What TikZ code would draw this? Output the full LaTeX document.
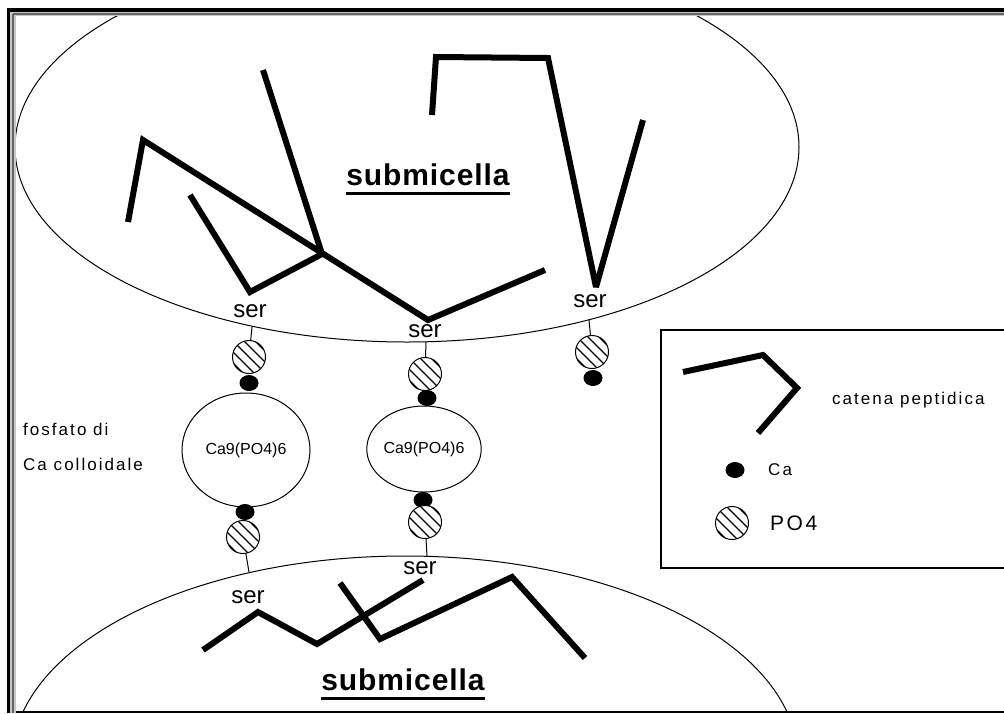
\documentclass[tikz,border=0pt]{standalone}
\usepackage{fontspec}
\setmainfont{Liberation Sans}
\newfontfamily\bitmapfont[LetterSpace=12]{Liberation Sans}
\newfontfamily\titlefont[LetterSpace=3]{Liberation Sans}
\usetikzlibrary{shapes.geometric}

\begin{document}
\begin{tikzpicture}[x=1pt,y=-1pt,
    chain/.style={line width=6, line join=miter, miter limit=2},
    tick/.style={line width=1},
    po4/.style={circle, draw, line width=1, minimum size=33, inner sep=0, fill=white,
      path picture={\foreach \k in {-22,-11,0,11,22}
        \draw[line width=1.2] ([xshift=\k]path picture bounding box.center) ++(-30,-30) -- ++(60,60);}},
    ca/.style={ellipse, fill=black, minimum width=19, minimum height=16, inner sep=0},
    colloid/.style={ellipse, draw, line width=1, fill=white, inner sep=0, font=\fontsize{16}{18}\selectfont},
    ser/.style={inner sep=0, font=\fontsize{24}{26}\selectfont},
    small/.style={inner sep=0, font=\bitmapfont\fontsize{17}{20}\selectfont},
    title/.style={inner sep=0, font=\titlefont\bfseries\fontsize{30}{33}\selectfont}]
  \useasboundingbox (0,0) rectangle (1004,713);

  % the two submicelle
  \begin{scope}
    \clip (16,16) rectangle (1004,711);
    \draw[line width=1] (407,147) ellipse [x radius=392, y radius=195];
    \draw[line width=1] (405,760) ellipse [x radius=393, y radius=204];
  \end{scope}

  % window frame
  \fill[black] (7,8) rectangle (1004,11.5);
  \fill[black] (7,8) rectangle (10,713);
  \fill[gray!45] (10,11.5) rectangle (1004,16);
  \fill[gray!45] (10,11.5) rectangle (16,713);
  \draw[gray!80!black, line width=1.5] (12.5,14) -- (1004,14);
  \draw[gray!80!black, line width=1.5] (13,14) -- (13,713);
  \draw[line width=1.5] (16,712) -- (1004,712);

  % peptide chains
  \draw[chain] (128,222) -- (143,140) -- (428,320) -- (545,270);
  \draw[chain] (190,195) -- (250,292) -- (322,254) -- (263,70);
  \draw[chain] (432,115) -- (436,57) -- (548,58) -- (596,287) -- (643,120);
  \draw[chain] (203,650) -- (258,612) -- (317,644) -- (423,580);
  \draw[chain] (340,583) -- (380,639) -- (512,577) -- (585,658);

  \node[title, anchor=base] (sub1) at (428,185) {submicella};
  \draw[line width=3] ([yshift=-8.5]sub1.base west) -- ([yshift=-8.5]sub1.base east);
  \node[title, anchor=base] (sub2) at (403,690) {submicella};
  \draw[line width=3] ([yshift=-8.5]sub2.base west) -- ([yshift=-8.5]sub2.base east);

  % serine attachment points
  \coordinate (e1) at (252,327);
  \coordinate (e2) at (426,342);
  \coordinate (e3) at (589,320);
  \coordinate (e4) at (249,572);
  \coordinate (e5) at (427,556);
  \node[ser] (ser1) at (250,311) {ser};
  \node[ser] (ser2) at (425,331) {ser};
  \node[ser] (ser3) at (590,301) {ser};
  \node[ser] (ser4) at (248,597) {ser};
  \node[ser] (ser5) at (420,568) {ser};

  % colloidal calcium phosphate bridges
  \node[colloid, minimum width=128, minimum height=114] (k1) at (246,450) {Ca9(PO4)6};
  \node[colloid, minimum width=102, minimum height=86] (k2) at (424,449) {Ca9(PO4)6};
  \node[po4] (p1) at (249,357) {};
  \node[ca] (c1) at (249,383) {};
  \node[ca] (c2) at (245,512) {};
  \node[po4] (p2) at (243,537) {};
  \node[po4] (p3) at (425,374) {};
  \node[ca] (c3) at (427,398) {};
  \node[ca] (c4) at (423,500) {};
  \node[po4] (p4) at (425,522) {};
  \node[po4] (p5) at (592,352) {};
  \node[ca] (c5) at (593,378) {};
  \draw[tick] (e1) -- (p1);
  \draw[tick] (e2) -- (p3);
  \draw[tick] (e3) -- (p5);
  \draw[tick] (p2) -- (e4);
  \draw[tick] (p4) -- (e5);

  \node[small, anchor=base west] (fosf) at (23,435) {fosfato di};
  \node[small, anchor=base west] (coll) at (23,470) {Ca colloidale};

  % legend
  \draw[line width=1.2] (1004,330) -- (661,330) -- (661,568) -- (1004,568);
  \draw[chain] (683,372) -- (763,355) -- (797,388) -- (758,433);
  \node[small, anchor=west] (lchain) at (832,400) {catena peptidica};
  \node[ca] (lca) at (735,470) {};
  \node[small, anchor=west] (lcatxt) at (768,470) {Ca};
  \node[po4] (lpo) at (732,523) {};
  \node[inner sep=0, anchor=west, font=\bitmapfont\fontsize{21}{24}\selectfont] (lpotxt) at (770,523) {PO4};
\end{tikzpicture}
\end{document}
